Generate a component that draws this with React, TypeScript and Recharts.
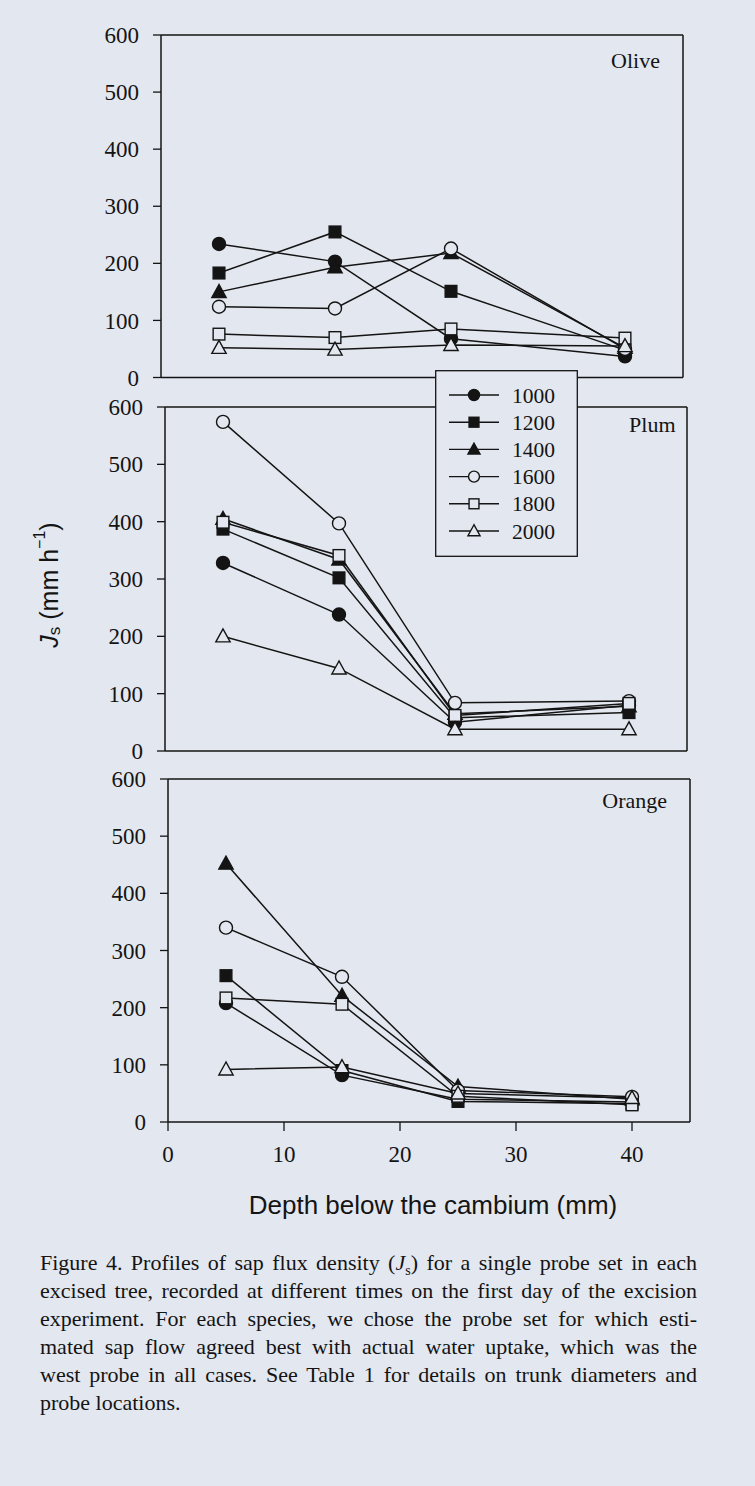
import React from "react";
import {
  LineChart,
  Line,
  XAxis,
  YAxis,
  ReferenceLine,
  Label,
  Legend,
} from "recharts";

// depth of each probe sensor (mm below cambium)
const depths = [5, 15, 25, 40];
const times = ["1000", "1200", "1400", "1600", "1800", "2000"];
const xTicks = [0, 10, 20, 30, 40];
const yTicks = [0, 100, 200, 300, 400, 500, 600];

// Js (mm h-1), one row per time of day, columns follow depths
const oliveJs = [
  [234, 203, 68, 37],
  [183, 255, 151, 48],
  [150, 193, 218, 52],
  [124, 121, 226, 50],
  [76, 70, 85, 69],
  [52, 49, 57, 55],
];
const plumJs = [
  [328, 238, 50, 80],
  [387, 302, 58, 67],
  [405, 334, 65, 78],
  [574, 397, 84, 87],
  [399, 341, 62, 83],
  [200, 144, 38, 38],
];
const orangeJs = [
  [208, 82, 40, 35],
  [256, 90, 36, 32],
  [452, 221, 62, 40],
  [340, 254, 55, 44],
  [217, 206, 45, 30],
  [92, 96, 50, 42],
];

const captionLines = [
  "Figure 4. Profiles of sap flux density (|J|) for a single probe set in each",
  "excised tree, recorded at different times on the first day of the excision",
  "experiment. For each species, we chose the probe set for which esti-",
  "mated sap flow agreed best with actual water uptake, which was the",
  "west probe in all cases. See Table 1 for details on trunk diameters and",
  "probe locations.",
];

const PAPER = "#e3e7ef";
const INK = "#141414";
const SERIF = "'Liberation Serif', 'Times New Roman', serif";
const SANS = "'Liberation Sans', Arial, sans-serif";
const shapes = ["circle", "square", "triangle", "circle", "square", "triangle"];
const solid = [true, true, true, false, false, false];

const PLOT_W = 522;
const AXIS_W = 150;

function Marker({ cx, cy, k, size }: { cx: number; cy: number; k: number; size: number }) {
  const fill = solid[k] ? INK : PAPER;
  const shape = shapes[k];
  if (shape === "circle") {
    return <circle cx={cx} cy={cy} r={size / 2} fill={fill} stroke={INK} strokeWidth={1.4} />;
  }
  if (shape === "square") {
    const s = size * 0.9;
    return <rect x={cx - s / 2} y={cy - s / 2} width={s} height={s} fill={fill} stroke={INK} strokeWidth={1.4} />;
  }
  const h = size * 0.95;
  const pts = `${cx},${cy - h * 0.6} ${cx - size * 0.55},${cy + h * 0.45} ${cx + size * 0.55},${cy + h * 0.45}`;
  return <polygon points={pts} fill={fill} stroke={INK} strokeWidth={1.4} />;
}

function LegendBox() {
  return (
    <svg width={143} height={187} style={{ display: "block" }}>
      <rect x={0.7} y={0.7} width={141.6} height={185.6} fill={PAPER} stroke={INK} strokeWidth={1.3} />
      {times.map((t, k) => {
        const y = 25 + k * 27.2;
        return (
          <g key={t}>
            <line x1={14} x2={64} y1={y} y2={y} stroke={INK} strokeWidth={1.4} />
            <Marker cx={39} cy={y} k={k} size={11} />
            <text x={77} y={y + 7.5} fontFamily={SERIF} fontSize={21.5} fill={INK}>
              {t}
            </text>
          </g>
        );
      })}
    </svg>
  );
}

type PanelProps = {
  name: string;
  values: number[][];
  axisX: number;
  top600: number;
  plotH: number;
  nameDx: number;
  nameDy: number;
  bottom?: boolean;
  middle?: boolean;
};

function Panel({ name, values, axisX, top600, plotH, nameDx, nameDy, bottom, middle }: PanelProps) {
  const rows = depths.map((d, i) => {
    const row: Record<string, number> = { depth: d };
    times.forEach((t, k) => (row[t] = values[k][i]));
    return row;
  });
  const xAxisH = bottom ? 110 : 20;
  const left = axisX - AXIS_W;
  const top = top600 - 20;

  return (
    <div style={{ position: "absolute", left, top }}>
      <LineChart
        width={AXIS_W + PLOT_W + 20}
        height={20 + plotH + xAxisH}
        data={rows}
        margin={{ top: 20, right: 20, bottom: 0, left: 0 }}
      >
        <XAxis
          dataKey="depth"
          type="number"
          domain={[0, 45]}
          ticks={xTicks}
          height={xAxisH}
          tickSize={9}
          tickMargin={15}
          stroke={INK}
          strokeWidth={1.5}
          tickLine={{ stroke: INK, strokeWidth: 1.3 }}
          tick={bottom ? { fill: INK, fontSize: 23, fontFamily: SERIF } : false}
          allowDataOverflow
        >
          {bottom && (
            <Label
              content={({ viewBox }: any) => (
                <text
                  x={viewBox.x + viewBox.width / 2 + 4}
                  y={viewBox.y + 92}
                  textAnchor="middle"
                  fontFamily={SANS}
                  fontSize={26}
                  fill={INK}
                >
                  Depth below the cambium (mm)
                </text>
              )}
            />
          )}
        </XAxis>
        <YAxis
          type="number"
          domain={[0, 600]}
          ticks={yTicks}
          width={AXIS_W}
          tickSize={8}
          tickMargin={14}
          stroke={INK}
          strokeWidth={1.5}
          tickLine={{ stroke: INK, strokeWidth: 1.3 }}
          tick={{ fill: INK, fontSize: 23, fontFamily: SERIF }}
        >
          {middle && (
            <Label
              content={({ viewBox }: any) => {
                const x = viewBox.x + 33.5;
                const y = viewBox.y + viewBox.height / 2 + 6;
                return (
                  <text
                    x={x}
                    y={y}
                    transform={`rotate(-90, ${x}, ${y})`}
                    textAnchor="middle"
                    dominantBaseline="central"
                    fontFamily={SANS}
                    fontSize={25}
                    fill={INK}
                  >
                    <tspan fontStyle="italic">J</tspan>
                    <tspan fontSize={17} dy={5}>s</tspan>
                    <tspan dy={-5}> (mm h</tspan>
                    <tspan fontSize={16} dy={-10}>−1</tspan>
                    <tspan dy={10}>)</tspan>
                  </text>
                );
              }}
            />
          )}
        </YAxis>
        <ReferenceLine y={600} stroke={INK} strokeWidth={1.5}>
          <Label
            content={({ viewBox }: any) => (
              <text
                x={viewBox.x + viewBox.width - nameDx}
                y={viewBox.y + nameDy + 15}
                textAnchor="end"
                fontFamily={SERIF}
                fontSize={22}
                fill={INK}
              >
                {name}
              </text>
            )}
          />
        </ReferenceLine>
        <ReferenceLine x={45} stroke={INK} strokeWidth={1.5} />
        {times.map((t, k) => (
          <Line
            key={t}
            dataKey={t}
            name={t}
            stroke={INK}
            strokeWidth={1.5}
            isAnimationActive={false}
            activeDot={false}
            dot={(p: any) => <Marker key={`${t}-${p.index}`} cx={p.cx} cy={p.cy} k={k} size={13} />}
          />
        ))}
        {middle && (
          <Legend
            layout="horizontal"
            verticalAlign="middle"
            align="center"
            content={() => <LegendBox />}
            wrapperStyle={{ left: 435 - left, top: 370 - top, width: 143, height: 187 }}
          />
        )}
      </LineChart>
    </div>
  );
}

export default function App() {
  return (
    <div
      style={{
        position: "absolute",
        left: 0,
        top: 0,
        width: 755,
        height: 1486,
        background: PAPER,
        overflow: "hidden",
      }}
    >
      <Panel name="Olive" values={oliveJs} axisX={161} top600={35} plotH={342.5} nameDx={23} nameDy={18} />
      <Panel name="Plum" values={plumJs} axisX={164.5} top600={407} plotH={344} nameDx={11.5} nameDy={10} middle />
      <Panel name="Orange" values={orangeJs} axisX={168} top600={779} plotH={343} nameDx={23} nameDy={14} bottom />
      <div
        style={{
          position: "absolute",
          left: 40,
          top: 1249,
          width: 657,
          fontFamily: SERIF,
          fontSize: 22,
          lineHeight: "28px",
          color: INK,
        }}
      >
        {captionLines.map((line, i) => {
          const parts = line.split("|J|");
          return (
            <div
              key={i}
              style={{
                textAlign: "justify",
                textAlignLast: i < captionLines.length - 1 ? "justify" : "left",
              }}
            >
              {parts[0]}
              {parts.length > 1 && (
                <>
                  <i>J</i>
                  <sub style={{ fontSize: 14, lineHeight: 0 }}>s</sub>
                  {parts[1]}
                </>
              )}
            </div>
          );
        })}
      </div>
    </div>
  );
}
